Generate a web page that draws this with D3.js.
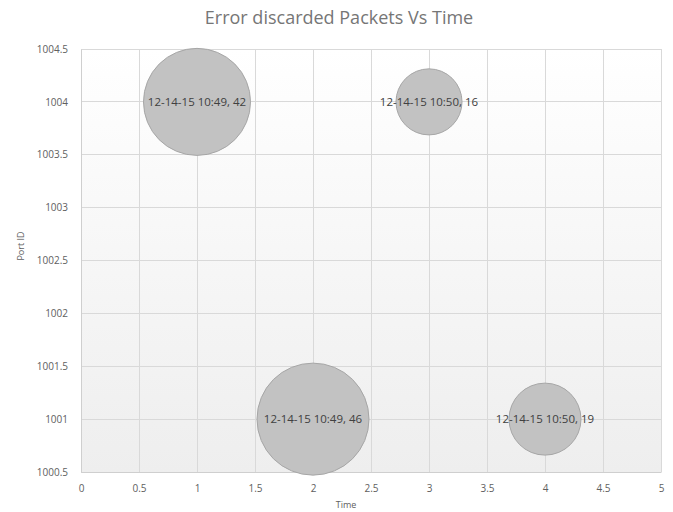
<!DOCTYPE html>
<html><head><meta charset="utf-8">
<script src="https://cdn.jsdelivr.net/npm/d3@7"></script>
<style>body{margin:0;background:#fff}svg{display:block}</style>
</head><body>
<svg id="c" width="673" height="512"></svg>
<script>
const labels = ["12-14-15 10:49, 42","12-14-15 10:49, 46","12-14-15 10:50, 16","12-14-15 10:50, 19"];
const timeVals = [1, 2, 3, 4];
const portVals = [1004, 1001, 1004, 1001];
const sizeVals = [42, 46, 16, 19];
const xTicks = [0,0.5,1,1.5,2,2.5,3,3.5,4,4.5,5];
const yTicks = [1000.5,1001,1001.5,1002,1002.5,1003,1003.5,1004,1004.5];

const svg = d3.select("#c");
const m = {l:81, r:661, t:49, b:472};
const x = d3.scaleLinear().domain([0,5]).range([m.l, m.r]);
const y = d3.scaleLinear().domain([1000.5,1004.5]).range([m.b, m.t]);
const r = d3.scaleSqrt().domain([0,46]).range([0,56]);
const font = "'Open Sans','Segoe UI',sans-serif";

const defs = svg.append("defs");
const g = defs.append("linearGradient").attr("id","bg").attr("x1",0).attr("y1",0).attr("x2",0).attr("y2",1);
g.append("stop").attr("offset","0%").attr("stop-color","#ffffff");
g.append("stop").attr("offset","100%").attr("stop-color","#eeeeee");

svg.append("rect").attr("x",m.l).attr("y",m.t).attr("width",m.r-m.l).attr("height",m.b-m.t).attr("fill","url(#bg)");

svg.append("g").selectAll("line").data(xTicks).join("line")
  .attr("x1",d=>x(d)).attr("x2",d=>x(d)).attr("y1",m.t).attr("y2",m.b)
  .attr("stroke","#d9d9d9").attr("stroke-width",1).attr("shape-rendering","crispEdges");
svg.append("g").selectAll("line").data(yTicks).join("line")
  .attr("x1",m.l).attr("x2",m.r).attr("y1",d=>y(d)).attr("y2",d=>y(d))
  .attr("stroke","#d9d9d9").attr("stroke-width",1).attr("shape-rendering","crispEdges");

const xa = svg.append("g").attr("transform",`translate(0,${m.b})`)
  .call(d3.axisBottom(x).tickValues(xTicks).tickSize(0).tickPadding(13).tickFormat(d3.format("")));
xa.select(".domain").attr("stroke","#cfcfcf");
xa.selectAll("text").attr("font-family",font).attr("font-size",10).attr("fill","#606060");
const ya = svg.append("g").attr("transform",`translate(${m.l},0)`)
  .call(d3.axisLeft(y).tickValues(yTicks).tickSize(0).tickPadding(13).tickFormat(d3.format("")));
ya.select(".domain").attr("stroke","#cfcfcf");
ya.selectAll("text").attr("font-family",font).attr("font-size",10).attr("fill","#606060");

const data = labels.map((l,i)=>({l, t:timeVals[i], p:portVals[i], s:sizeVals[i]}));
svg.append("g").selectAll("circle").data(data).join("circle")
  .attr("cx",d=>x(d.t)).attr("cy",d=>y(d.p)).attr("r",d=>r(d.s))
  .attr("fill","#c2c2c2").attr("stroke","#a6a6a6").attr("stroke-width",1);
svg.append("g").selectAll("text").data(data).join("text")
  .attr("x",d=>x(d.t)).attr("y",d=>y(d.p)).attr("dy","0.35em").attr("text-anchor","middle")
  .attr("font-family",font).attr("font-size",11.5).attr("fill","#404040").text(d=>d.l);

svg.append("text").attr("x",339).attr("y",24).attr("text-anchor","middle")
  .attr("font-family",font).attr("font-size",18).attr("fill","#767676").text("Error discarded Packets Vs Time");
svg.append("text").attr("x",346).attr("y",508).attr("text-anchor","middle")
  .attr("font-family",font).attr("font-size",9).attr("fill","#606060").text("Time");
svg.append("text").attr("transform","translate(24,246) rotate(-90)").attr("text-anchor","middle")
  .attr("font-family",font).attr("font-size",9).attr("fill","#606060").text("Port ID");
</script>
</body></html>
